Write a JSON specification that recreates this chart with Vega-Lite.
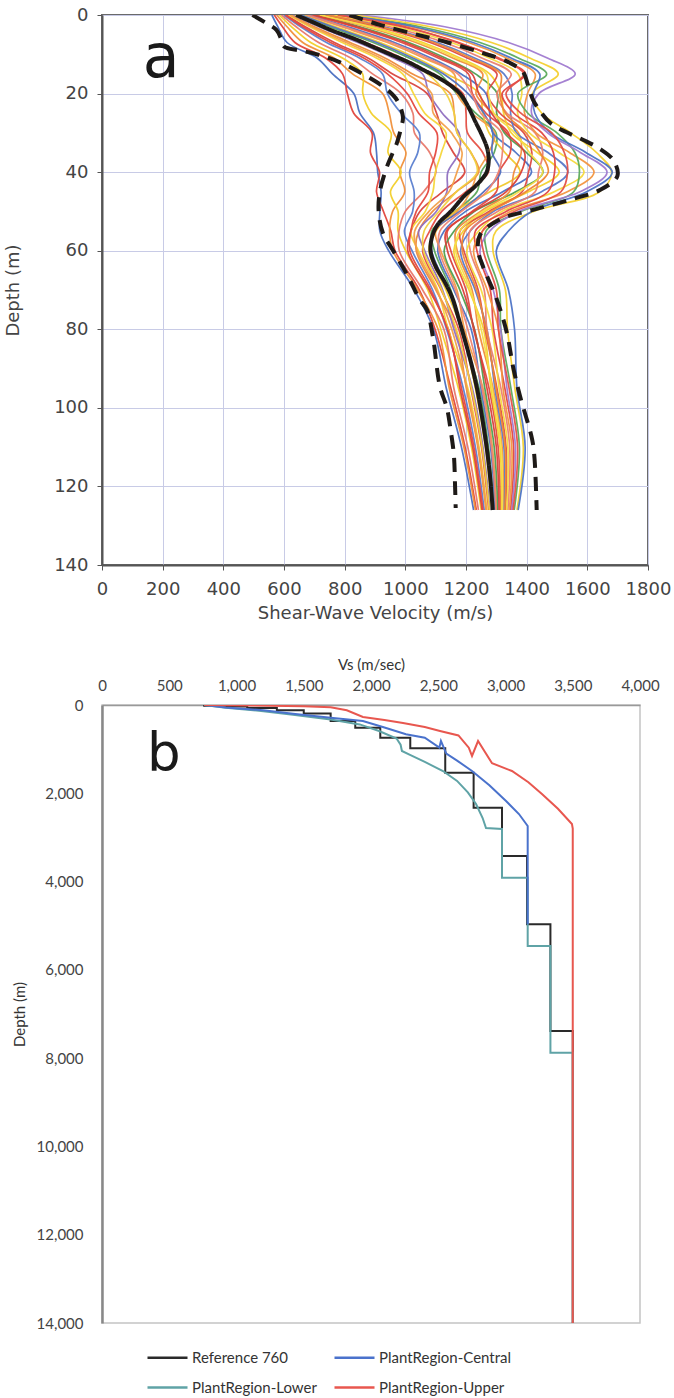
{
"$schema": "https://vega.github.io/schema/vega-lite/v6.json",
"background": "white",
"padding": {"left": 3, "top": 5, "right": 0, "bottom": 0},
"spacing": 140,
"bounds": "flush",
"config": {"font": "DejaVu Sans"},
"resolve": {"scale": {"color": "independent", "strokeDash": "independent"}, "legend": {"color": "independent", "strokeDash": "independent"}},
"datasets": {
"prof": [
{"s":"L01","d":0,"v":560},{"s":"L01","d":3,"v":580},{"s":"L01","d":7,"v":610},{"s":"L01","d":11,"v":710},{"s":"L01","d":15,"v":760},{"s":"L01","d":20,"v":830},{"s":"L01","d":25,"v":850},{"s":"L01","d":30,"v":895},{"s":"L01","d":35,"v":905},{"s":"L01","d":40,"v":909},{"s":"L01","d":45,"v":920},{"s":"L01","d":50,"v":916},{"s":"L01","d":55,"v":916},{"s":"L01","d":60,"v":945},{"s":"L01","d":70,"v":1030},{"s":"L01","d":80,"v":1093},{"s":"L01","d":95,"v":1135},{"s":"L01","d":110,"v":1185},{"s":"L01","d":126,"v":1225},
{"s":"L02","d":0,"v":568},{"s":"L02","d":3,"v":595},{"s":"L02","d":7,"v":636},{"s":"L02","d":11,"v":738},{"s":"L02","d":15,"v":793},{"s":"L02","d":20,"v":809},{"s":"L02","d":25,"v":830},{"s":"L02","d":30,"v":890},{"s":"L02","d":35,"v":885},{"s":"L02","d":40,"v":915},{"s":"L02","d":45,"v":905},{"s":"L02","d":50,"v":928},{"s":"L02","d":55,"v":952},{"s":"L02","d":60,"v":966},{"s":"L02","d":70,"v":1046},{"s":"L02","d":80,"v":1098},{"s":"L02","d":95,"v":1150},{"s":"L02","d":110,"v":1197},{"s":"L02","d":126,"v":1234},
{"s":"L03","d":0,"v":576},{"s":"L03","d":3,"v":610},{"s":"L03","d":7,"v":662},{"s":"L03","d":11,"v":766},{"s":"L03","d":15,"v":826},{"s":"L03","d":20,"v":925},{"s":"L03","d":25,"v":947},{"s":"L03","d":30,"v":962},{"s":"L03","d":35,"v":1002},{"s":"L03","d":40,"v":982},{"s":"L03","d":45,"v":998},{"s":"L03","d":50,"v":958},{"s":"L03","d":55,"v":948},{"s":"L03","d":60,"v":959},{"s":"L03","d":70,"v":1041},{"s":"L03","d":80,"v":1108},{"s":"L03","d":95,"v":1145},{"s":"L03","d":110,"v":1193},{"s":"L03","d":126,"v":1231},
{"s":"L04","d":0,"v":584},{"s":"L04","d":3,"v":625},{"s":"L04","d":7,"v":688},{"s":"L04","d":11,"v":794},{"s":"L04","d":15,"v":859},{"s":"L04","d":20,"v":860},{"s":"L04","d":25,"v":888},{"s":"L04","d":30,"v":953},{"s":"L04","d":35,"v":943},{"s":"L04","d":40,"v":986},{"s":"L04","d":45,"v":951},{"s":"L04","d":50,"v":976},{"s":"L04","d":55,"v":976},{"s":"L04","d":60,"v":1001},{"s":"L04","d":70,"v":1074},{"s":"L04","d":80,"v":1117},{"s":"L04","d":95,"v":1175},{"s":"L04","d":110,"v":1218},{"s":"L04","d":126,"v":1250},
{"s":"L05","d":0,"v":592},{"s":"L05","d":3,"v":640},{"s":"L05","d":7,"v":714},{"s":"L05","d":11,"v":822},{"s":"L05","d":15,"v":892},{"s":"L05","d":20,"v":986},{"s":"L05","d":25,"v":1025},{"s":"L05","d":30,"v":1030},{"s":"L05","d":35,"v":1080},{"s":"L05","d":40,"v":1101},{"s":"L05","d":45,"v":1060},{"s":"L05","d":50,"v":1000},{"s":"L05","d":55,"v":979},{"s":"L05","d":60,"v":980},{"s":"L05","d":70,"v":1057},{"s":"L05","d":80,"v":1127},{"s":"L05","d":95,"v":1160},{"s":"L05","d":110,"v":1206},{"s":"L05","d":126,"v":1241},
{"s":"L06","d":0,"v":600},{"s":"L06","d":3,"v":655},{"s":"L06","d":7,"v":740},{"s":"L06","d":11,"v":850},{"s":"L06","d":15,"v":925},{"s":"L06","d":20,"v":941},{"s":"L06","d":25,"v":986},{"s":"L06","d":30,"v":1046},{"s":"L06","d":35,"v":1041},{"s":"L06","d":40,"v":1014},{"s":"L06","d":45,"v":1029},{"s":"L06","d":50,"v":1024},{"s":"L06","d":55,"v":997},{"s":"L06","d":60,"v":1022},{"s":"L06","d":70,"v":1090},{"s":"L06","d":80,"v":1136},{"s":"L06","d":95,"v":1191},{"s":"L06","d":110,"v":1231},{"s":"L06","d":126,"v":1260},
{"s":"L07","d":0,"v":608},{"s":"L07","d":3,"v":670},{"s":"L07","d":7,"v":766},{"s":"L07","d":11,"v":878},{"s":"L07","d":15,"v":958},{"s":"L07","d":20,"v":1072},{"s":"L07","d":25,"v":1103},{"s":"L07","d":30,"v":1123},{"s":"L07","d":35,"v":1158},{"s":"L07","d":40,"v":1196},{"s":"L07","d":45,"v":1122},{"s":"L07","d":50,"v":1048},{"s":"L07","d":55,"v":1019},{"s":"L07","d":60,"v":1008},{"s":"L07","d":70,"v":1079},{"s":"L07","d":80,"v":1142},{"s":"L07","d":95,"v":1180},{"s":"L07","d":110,"v":1222},{"s":"L07","d":126,"v":1253},
{"s":"L08","d":0,"v":616},{"s":"L08","d":3,"v":685},{"s":"L08","d":7,"v":792},{"s":"L08","d":11,"v":906},{"s":"L08","d":15,"v":991},{"s":"L08","d":20,"v":1027},{"s":"L08","d":25,"v":1064},{"s":"L08","d":30,"v":1134},{"s":"L08","d":35,"v":1119},{"s":"L08","d":40,"v":1099},{"s":"L08","d":45,"v":1091},{"s":"L08","d":50,"v":1066},{"s":"L08","d":55,"v":1018},{"s":"L08","d":60,"v":1043},{"s":"L08","d":70,"v":1107},{"s":"L08","d":80,"v":1141},{"s":"L08","d":95,"v":1206},{"s":"L08","d":110,"v":1243},{"s":"L08","d":126,"v":1269},
{"s":"L09","d":0,"v":624},{"s":"L09","d":3,"v":700},{"s":"L09","d":7,"v":818},{"s":"L09","d":11,"v":934},{"s":"L09","d":15,"v":1024},{"s":"L09","d":20,"v":1148},{"s":"L09","d":25,"v":1161},{"s":"L09","d":30,"v":1171},{"s":"L09","d":35,"v":1216},{"s":"L09","d":40,"v":1242},{"s":"L09","d":45,"v":1168},{"s":"L09","d":50,"v":1090},{"s":"L09","d":55,"v":1044},{"s":"L09","d":60,"v":1036},{"s":"L09","d":70,"v":1101},{"s":"L09","d":80,"v":1166},{"s":"L09","d":95,"v":1201},{"s":"L09","d":110,"v":1239},{"s":"L09","d":126,"v":1266},
{"s":"L10","d":0,"v":632},{"s":"L10","d":3,"v":715},{"s":"L10","d":7,"v":844},{"s":"L10","d":11,"v":962},{"s":"L10","d":15,"v":1057},{"s":"L10","d":20,"v":1078},{"s":"L10","d":25,"v":1122},{"s":"L10","d":30,"v":1177},{"s":"L10","d":35,"v":1177},{"s":"L10","d":40,"v":1140},{"s":"L10","d":45,"v":1137},{"s":"L10","d":50,"v":1102},{"s":"L10","d":55,"v":1044},{"s":"L10","d":60,"v":1064},{"s":"L10","d":70,"v":1123},{"s":"L10","d":80,"v":1160},{"s":"L10","d":95,"v":1221},{"s":"L10","d":110,"v":1256},{"s":"L10","d":126,"v":1279},
{"s":"L11","d":0,"v":640},{"s":"L11","d":3,"v":730},{"s":"L11","d":7,"v":870},{"s":"L11","d":11,"v":990},{"s":"L11","d":15,"v":1090},{"s":"L11","d":20,"v":1190},{"s":"L11","d":25,"v":1200},{"s":"L11","d":30,"v":1205},{"s":"L11","d":35,"v":1255},{"s":"L11","d":40,"v":1274},{"s":"L11","d":45,"v":1199},{"s":"L11","d":50,"v":1120},{"s":"L11","d":55,"v":1080},{"s":"L11","d":60,"v":1057},{"s":"L11","d":70,"v":1118},{"s":"L11","d":80,"v":1176},{"s":"L11","d":95,"v":1216},{"s":"L11","d":110,"v":1251},{"s":"L11","d":126,"v":1275},
{"s":"L12","d":0,"v":650},{"s":"L12","d":3,"v":750},{"s":"L12","d":7,"v":894},{"s":"L12","d":11,"v":1014},{"s":"L12","d":15,"v":1114},{"s":"L12","d":20,"v":1169},{"s":"L12","d":25,"v":1232},{"s":"L12","d":30,"v":1299},{"s":"L12","d":35,"v":1293},{"s":"L12","d":40,"v":1250},{"s":"L12","d":45,"v":1236},{"s":"L12","d":50,"v":1164},{"s":"L12","d":55,"v":1087},{"s":"L12","d":60,"v":1096},{"s":"L12","d":70,"v":1150},{"s":"L12","d":80,"v":1183},{"s":"L12","d":95,"v":1243},{"s":"L12","d":110,"v":1274},{"s":"L12","d":126,"v":1292},
{"s":"L13","d":0,"v":661},{"s":"L13","d":3,"v":770},{"s":"L13","d":7,"v":917},{"s":"L13","d":11,"v":1038},{"s":"L13","d":15,"v":1137},{"s":"L13","d":20,"v":1244},{"s":"L13","d":25,"v":1255},{"s":"L13","d":30,"v":1276},{"s":"L13","d":35,"v":1328},{"s":"L13","d":40,"v":1378},{"s":"L13","d":45,"v":1279},{"s":"L13","d":50,"v":1164},{"s":"L13","d":55,"v":1101},{"s":"L13","d":60,"v":1078},{"s":"L13","d":70,"v":1134},{"s":"L13","d":80,"v":1185},{"s":"L13","d":95,"v":1231},{"s":"L13","d":110,"v":1264},{"s":"L13","d":126,"v":1285},
{"s":"L14","d":0,"v":672},{"s":"L14","d":3,"v":790},{"s":"L14","d":7,"v":941},{"s":"L14","d":11,"v":1062},{"s":"L14","d":15,"v":1161},{"s":"L14","d":20,"v":1170},{"s":"L14","d":25,"v":1220},{"s":"L14","d":30,"v":1295},{"s":"L14","d":35,"v":1275},{"s":"L14","d":40,"v":1238},{"s":"L14","d":45,"v":1215},{"s":"L14","d":50,"v":1171},{"s":"L14","d":55,"v":1100},{"s":"L14","d":60,"v":1117},{"s":"L14","d":70,"v":1170},{"s":"L14","d":80,"v":1195},{"s":"L14","d":95,"v":1256},{"s":"L14","d":110,"v":1287},{"s":"L14","d":126,"v":1301},
{"s":"L15","d":0,"v":682},{"s":"L15","d":3,"v":810},{"s":"L15","d":7,"v":964},{"s":"L15","d":11,"v":1086},{"s":"L15","d":15,"v":1184},{"s":"L15","d":20,"v":1266},{"s":"L15","d":25,"v":1278},{"s":"L15","d":30,"v":1289},{"s":"L15","d":35,"v":1364},{"s":"L15","d":40,"v":1416},{"s":"L15","d":45,"v":1321},{"s":"L15","d":50,"v":1199},{"s":"L15","d":55,"v":1128},{"s":"L15","d":60,"v":1107},{"s":"L15","d":70,"v":1160},{"s":"L15","d":80,"v":1217},{"s":"L15","d":95,"v":1249},{"s":"L15","d":110,"v":1281},{"s":"L15","d":126,"v":1296},
{"s":"L16","d":0,"v":693},{"s":"L16","d":3,"v":830},{"s":"L16","d":7,"v":988},{"s":"L16","d":11,"v":1110},{"s":"L16","d":15,"v":1208},{"s":"L16","d":20,"v":1221},{"s":"L16","d":25,"v":1266},{"s":"L16","d":30,"v":1340},{"s":"L16","d":35,"v":1346},{"s":"L16","d":40,"v":1309},{"s":"L16","d":45,"v":1300},{"s":"L16","d":50,"v":1220},{"s":"L16","d":55,"v":1139},{"s":"L16","d":60,"v":1150},{"s":"L16","d":70,"v":1200},{"s":"L16","d":80,"v":1225},{"s":"L16","d":95,"v":1276},{"s":"L16","d":110,"v":1306},{"s":"L16","d":126,"v":1313},
{"s":"L17","d":0,"v":703},{"s":"L17","d":3,"v":850},{"s":"L17","d":7,"v":1011},{"s":"L17","d":11,"v":1134},{"s":"L17","d":15,"v":1231},{"s":"L17","d":20,"v":1303},{"s":"L17","d":25,"v":1301},{"s":"L17","d":30,"v":1326},{"s":"L17","d":35,"v":1399},{"s":"L17","d":40,"v":1454},{"s":"L17","d":45,"v":1364},{"s":"L17","d":50,"v":1227},{"s":"L17","d":55,"v":1161},{"s":"L17","d":60,"v":1128},{"s":"L17","d":70,"v":1180},{"s":"L17","d":80,"v":1228},{"s":"L17","d":95,"v":1262},{"s":"L17","d":110,"v":1293},{"s":"L17","d":126,"v":1305},
{"s":"L18","d":0,"v":714},{"s":"L18","d":3,"v":870},{"s":"L18","d":7,"v":1035},{"s":"L18","d":11,"v":1158},{"s":"L18","d":15,"v":1255},{"s":"L18","d":20,"v":1233},{"s":"L18","d":25,"v":1289},{"s":"L18","d":30,"v":1373},{"s":"L18","d":35,"v":1382},{"s":"L18","d":40,"v":1358},{"s":"L18","d":45,"v":1343},{"s":"L18","d":50,"v":1248},{"s":"L18","d":55,"v":1167},{"s":"L18","d":60,"v":1171},{"s":"L18","d":70,"v":1220},{"s":"L18","d":80,"v":1241},{"s":"L18","d":95,"v":1289},{"s":"L18","d":110,"v":1319},{"s":"L18","d":126,"v":1322},
{"s":"L19","d":0,"v":724},{"s":"L19","d":3,"v":890},{"s":"L19","d":7,"v":1058},{"s":"L19","d":11,"v":1182},{"s":"L19","d":15,"v":1278},{"s":"L19","d":20,"v":1315},{"s":"L19","d":25,"v":1324},{"s":"L19","d":30,"v":1349},{"s":"L19","d":35,"v":1435},{"s":"L19","d":40,"v":1507},{"s":"L19","d":45,"v":1406},{"s":"L19","d":50,"v":1262},{"s":"L19","d":55,"v":1191},{"s":"L19","d":60,"v":1160},{"s":"L19","d":70,"v":1210},{"s":"L19","d":80,"v":1258},{"s":"L19","d":95,"v":1282},{"s":"L19","d":110,"v":1312},{"s":"L19","d":126,"v":1317},
{"s":"L20","d":0,"v":735},{"s":"L20","d":3,"v":910},{"s":"L20","d":7,"v":1082},{"s":"L20","d":11,"v":1206},{"s":"L20","d":15,"v":1302},{"s":"L20","d":20,"v":1270},{"s":"L20","d":25,"v":1312},{"s":"L20","d":30,"v":1390},{"s":"L20","d":35,"v":1417},{"s":"L20","d":40,"v":1406},{"s":"L20","d":45,"v":1385},{"s":"L20","d":50,"v":1276},{"s":"L20","d":55,"v":1180},{"s":"L20","d":60,"v":1193},{"s":"L20","d":70,"v":1240},{"s":"L20","d":80,"v":1263},{"s":"L20","d":95,"v":1302},{"s":"L20","d":110,"v":1332},{"s":"L20","d":126,"v":1330},
{"s":"L21","d":0,"v":745},{"s":"L21","d":3,"v":930},{"s":"L21","d":7,"v":1105},{"s":"L21","d":11,"v":1230},{"s":"L21","d":15,"v":1325},{"s":"L21","d":20,"v":1352},{"s":"L21","d":25,"v":1347},{"s":"L21","d":30,"v":1366},{"s":"L21","d":35,"v":1470},{"s":"L21","d":40,"v":1536},{"s":"L21","d":45,"v":1449},{"s":"L21","d":50,"v":1290},{"s":"L21","d":55,"v":1214},{"s":"L21","d":60,"v":1182},{"s":"L21","d":70,"v":1230},{"s":"L21","d":80,"v":1269},{"s":"L21","d":95,"v":1295},{"s":"L21","d":110,"v":1325},{"s":"L21","d":126,"v":1326},
{"s":"L22","d":0,"v":756},{"s":"L22","d":3,"v":950},{"s":"L22","d":7,"v":1129},{"s":"L22","d":11,"v":1254},{"s":"L22","d":15,"v":1349},{"s":"L22","d":20,"v":1302},{"s":"L22","d":25,"v":1335},{"s":"L22","d":30,"v":1428},{"s":"L22","d":35,"v":1453},{"s":"L22","d":40,"v":1439},{"s":"L22","d":45,"v":1428},{"s":"L22","d":50,"v":1304},{"s":"L22","d":55,"v":1213},{"s":"L22","d":60,"v":1214},{"s":"L22","d":70,"v":1260},{"s":"L22","d":80,"v":1269},{"s":"L22","d":95,"v":1315},{"s":"L22","d":110,"v":1344},{"s":"L22","d":126,"v":1338},
{"s":"L23","d":0,"v":766},{"s":"L23","d":3,"v":970},{"s":"L23","d":7,"v":1152},{"s":"L23","d":11,"v":1278},{"s":"L23","d":15,"v":1372},{"s":"L23","d":20,"v":1384},{"s":"L23","d":25,"v":1370},{"s":"L23","d":30,"v":1409},{"s":"L23","d":35,"v":1506},{"s":"L23","d":40,"v":1589},{"s":"L23","d":45,"v":1491},{"s":"L23","d":50,"v":1318},{"s":"L23","d":55,"v":1242},{"s":"L23","d":60,"v":1203},{"s":"L23","d":70,"v":1250},{"s":"L23","d":80,"v":1286},{"s":"L23","d":95,"v":1309},{"s":"L23","d":110,"v":1338},{"s":"L23","d":126,"v":1334},
{"s":"L24","d":0,"v":777},{"s":"L24","d":3,"v":990},{"s":"L24","d":7,"v":1176},{"s":"L24","d":11,"v":1302},{"s":"L24","d":15,"v":1396},{"s":"L24","d":20,"v":1319},{"s":"L24","d":25,"v":1358},{"s":"L24","d":30,"v":1450},{"s":"L24","d":35,"v":1488},{"s":"L24","d":40,"v":1492},{"s":"L24","d":45,"v":1470},{"s":"L24","d":50,"v":1332},{"s":"L24","d":55,"v":1231},{"s":"L24","d":60,"v":1236},{"s":"L24","d":70,"v":1280},{"s":"L24","d":80,"v":1291},{"s":"L24","d":95,"v":1328},{"s":"L24","d":110,"v":1357},{"s":"L24","d":126,"v":1347},
{"s":"L25","d":0,"v":791},{"s":"L25","d":3,"v":1018},{"s":"L25","d":7,"v":1208},{"s":"L25","d":11,"v":1336},{"s":"L25","d":15,"v":1428},{"s":"L25","d":20,"v":1403},{"s":"L25","d":25,"v":1393},{"s":"L25","d":30,"v":1431},{"s":"L25","d":35,"v":1541},{"s":"L25","d":40,"v":1622},{"s":"L25","d":45,"v":1534},{"s":"L25","d":50,"v":1346},{"s":"L25","d":55,"v":1255},{"s":"L25","d":60,"v":1225},{"s":"L25","d":70,"v":1270},{"s":"L25","d":80,"v":1307},{"s":"L25","d":95,"v":1322},{"s":"L25","d":110,"v":1351},{"s":"L25","d":126,"v":1343},
{"s":"L26","d":0,"v":808},{"s":"L26","d":3,"v":1050},{"s":"L26","d":7,"v":1246},{"s":"L26","d":11,"v":1374},{"s":"L26","d":15,"v":1466},{"s":"L26","d":20,"v":1371},{"s":"L26","d":25,"v":1404},{"s":"L26","d":30,"v":1500},{"s":"L26","d":35,"v":1559},{"s":"L26","d":40,"v":1574},{"s":"L26","d":45,"v":1555},{"s":"L26","d":50,"v":1381},{"s":"L26","d":55,"v":1266},{"s":"L26","d":60,"v":1268},{"s":"L26","d":70,"v":1310},{"s":"L26","d":80,"v":1315},{"s":"L26","d":95,"v":1348},{"s":"L26","d":110,"v":1376},{"s":"L26","d":126,"v":1359},
{"s":"L27","d":0,"v":850},{"s":"L27","d":3,"v":1130},{"s":"L27","d":7,"v":1340},{"s":"L27","d":11,"v":1470},{"s":"L27","d":15,"v":1560},{"s":"L27","d":20,"v":1440},{"s":"L27","d":25,"v":1416},{"s":"L27","d":30,"v":1469},{"s":"L27","d":35,"v":1577},{"s":"L27","d":40,"v":1665},{"s":"L27","d":45,"v":1576},{"s":"L27","d":50,"v":1374},{"s":"L27","d":55,"v":1278},{"s":"L27","d":60,"v":1246},{"s":"L27","d":70,"v":1290},{"s":"L27","d":80,"v":1314},{"s":"L27","d":95,"v":1335},{"s":"L27","d":110,"v":1363},{"s":"L27","d":126,"v":1351},
{"s":"L28","d":0,"v":825},{"s":"L28","d":3,"v":1082},{"s":"L28","d":7,"v":1284},{"s":"L28","d":11,"v":1412},{"s":"L28","d":15,"v":1504},{"s":"L28","d":20,"v":1419},{"s":"L28","d":25,"v":1450},{"s":"L28","d":30,"v":1545},{"s":"L28","d":35,"v":1630},{"s":"L28","d":40,"v":1680},{"s":"L28","d":45,"v":1640},{"s":"L28","d":50,"v":1423},{"s":"L28","d":55,"v":1299},{"s":"L28","d":60,"v":1289},{"s":"L28","d":70,"v":1330},{"s":"L28","d":80,"v":1337},{"s":"L28","d":95,"v":1361},{"s":"L28","d":110,"v":1389},{"s":"L28","d":126,"v":1368},
{"s":"L29","d":0,"v":798},{"s":"L29","d":3,"v":1030},{"s":"L29","d":7,"v":1223},{"s":"L29","d":11,"v":1350},{"s":"L29","d":15,"v":1443},{"s":"L29","d":20,"v":1423},{"s":"L29","d":25,"v":1427},{"s":"L29","d":30,"v":1478},{"s":"L29","d":35,"v":1595},{"s":"L29","d":40,"v":1682},{"s":"L29","d":45,"v":1598},{"s":"L29","d":50,"v":1416},{"s":"L29","d":55,"v":1340},{"s":"L29","d":60,"v":1300},{"s":"L29","d":70,"v":1340},{"s":"L29","d":80,"v":1360},{"s":"L29","d":95,"v":1368},{"s":"L29","d":110,"v":1395},{"s":"L29","d":126,"v":1372},
{"s":"L30","d":0,"v":780},{"s":"L30","d":3,"v":1000},{"s":"L30","d":7,"v":1170},{"s":"L30","d":11,"v":1310},{"s":"L30","d":15,"v":1390},{"s":"L30","d":20,"v":1332},{"s":"L30","d":25,"v":1381},{"s":"L30","d":30,"v":1483},{"s":"L30","d":35,"v":1524},{"s":"L30","d":40,"v":1535},{"s":"L30","d":45,"v":1513},{"s":"L30","d":50,"v":1360},{"s":"L30","d":55,"v":1254},{"s":"L30","d":60,"v":1257},{"s":"L30","d":70,"v":1300},{"s":"L30","d":80,"v":1307},{"s":"L30","d":95,"v":1342},{"s":"L30","d":110,"v":1370},{"s":"L30","d":126,"v":1355},
{"s":"M01","d":0,"v":604},{"s":"M01","d":3,"v":662},{"s":"M01","d":7,"v":753},{"s":"M01","d":11,"v":864},{"s":"M01","d":15,"v":941},{"s":"M01","d":20,"v":1006},{"s":"M01","d":25,"v":1044},{"s":"M01","d":30,"v":1104},{"s":"M01","d":35,"v":1100},{"s":"M01","d":40,"v":1080},{"s":"M01","d":45,"v":1075},{"s":"M01","d":50,"v":1036},{"s":"M01","d":55,"v":1018},{"s":"M01","d":60,"v":1015},{"s":"M01","d":70,"v":1084},{"s":"M01","d":80,"v":1139},{"s":"M01","d":95,"v":1185},{"s":"M01","d":110,"v":1226},{"s":"M01","d":126,"v":1256},
{"s":"M02","d":0,"v":620},{"s":"M02","d":3,"v":692},{"s":"M02","d":7,"v":805},{"s":"M02","d":11,"v":920},{"s":"M02","d":15,"v":1007},{"s":"M02","d":20,"v":1087},{"s":"M02","d":25,"v":1092},{"s":"M02","d":30,"v":1152},{"s":"M02","d":35,"v":1187},{"s":"M02","d":40,"v":1170},{"s":"M02","d":45,"v":1144},{"s":"M02","d":50,"v":1078},{"s":"M02","d":55,"v":1031},{"s":"M02","d":60,"v":1039},{"s":"M02","d":70,"v":1104},{"s":"M02","d":80,"v":1153},{"s":"M02","d":95,"v":1203},{"s":"M02","d":110,"v":1241},{"s":"M02","d":126,"v":1267},
{"s":"M03","d":0,"v":636},{"s":"M03","d":3,"v":722},{"s":"M03","d":7,"v":857},{"s":"M03","d":11,"v":976},{"s":"M03","d":15,"v":1073},{"s":"M03","d":20,"v":1134},{"s":"M03","d":25,"v":1161},{"s":"M03","d":30,"v":1171},{"s":"M03","d":35,"v":1216},{"s":"M03","d":40,"v":1237},{"s":"M03","d":45,"v":1168},{"s":"M03","d":50,"v":1111},{"s":"M03","d":55,"v":1062},{"s":"M03","d":60,"v":1060},{"s":"M03","d":70,"v":1120},{"s":"M03","d":80,"v":1168},{"s":"M03","d":95,"v":1218},{"s":"M03","d":110,"v":1253},{"s":"M03","d":126,"v":1277},
{"s":"M04","d":0,"v":656},{"s":"M04","d":3,"v":760},{"s":"M04","d":7,"v":906},{"s":"M04","d":11,"v":1026},{"s":"M04","d":15,"v":1126},{"s":"M04","d":20,"v":1207},{"s":"M04","d":25,"v":1259},{"s":"M04","d":30,"v":1288},{"s":"M04","d":35,"v":1286},{"s":"M04","d":40,"v":1314},{"s":"M04","d":45,"v":1258},{"s":"M04","d":50,"v":1179},{"s":"M04","d":55,"v":1094},{"s":"M04","d":60,"v":1087},{"s":"M04","d":70,"v":1142},{"s":"M04","d":80,"v":1184},{"s":"M04","d":95,"v":1237},{"s":"M04","d":110,"v":1269},{"s":"M04","d":126,"v":1289},
{"s":"M05","d":0,"v":677},{"s":"M05","d":3,"v":800},{"s":"M05","d":7,"v":953},{"s":"M05","d":11,"v":1074},{"s":"M05","d":15,"v":1173},{"s":"M05","d":20,"v":1218},{"s":"M05","d":25,"v":1249},{"s":"M05","d":30,"v":1317},{"s":"M05","d":35,"v":1320},{"s":"M05","d":40,"v":1307},{"s":"M05","d":45,"v":1268},{"s":"M05","d":50,"v":1185},{"s":"M05","d":55,"v":1114},{"s":"M05","d":60,"v":1112},{"s":"M05","d":70,"v":1165},{"s":"M05","d":80,"v":1206},{"s":"M05","d":95,"v":1253},{"s":"M05","d":110,"v":1284},{"s":"M05","d":126,"v":1299},
{"s":"M06","d":0,"v":698},{"s":"M06","d":3,"v":840},{"s":"M06","d":7,"v":1000},{"s":"M06","d":11,"v":1122},{"s":"M06","d":15,"v":1220},{"s":"M06","d":20,"v":1242},{"s":"M06","d":25,"v":1284},{"s":"M06","d":30,"v":1333},{"s":"M06","d":35,"v":1393},{"s":"M06","d":40,"v":1382},{"s":"M06","d":45,"v":1332},{"s":"M06","d":50,"v":1224},{"s":"M06","d":55,"v":1135},{"s":"M06","d":60,"v":1139},{"s":"M06","d":70,"v":1190},{"s":"M06","d":80,"v":1227},{"s":"M06","d":95,"v":1269},{"s":"M06","d":110,"v":1300},{"s":"M06","d":126,"v":1309},
{"s":"M07","d":0,"v":719},{"s":"M07","d":3,"v":880},{"s":"M07","d":7,"v":1047},{"s":"M07","d":11,"v":1170},{"s":"M07","d":15,"v":1267},{"s":"M07","d":20,"v":1274},{"s":"M07","d":25,"v":1292},{"s":"M07","d":30,"v":1361},{"s":"M07","d":35,"v":1409},{"s":"M07","d":40,"v":1453},{"s":"M07","d":45,"v":1375},{"s":"M07","d":50,"v":1255},{"s":"M07","d":55,"v":1179},{"s":"M07","d":60,"v":1166},{"s":"M07","d":70,"v":1215},{"s":"M07","d":80,"v":1250},{"s":"M07","d":95,"v":1286},{"s":"M07","d":110,"v":1316},{"s":"M07","d":126,"v":1320},
{"s":"M08","d":0,"v":740},{"s":"M08","d":3,"v":920},{"s":"M08","d":7,"v":1094},{"s":"M08","d":11,"v":1218},{"s":"M08","d":15,"v":1314},{"s":"M08","d":20,"v":1311},{"s":"M08","d":25,"v":1330},{"s":"M08","d":30,"v":1398},{"s":"M08","d":35,"v":1444},{"s":"M08","d":40,"v":1471},{"s":"M08","d":45,"v":1397},{"s":"M08","d":50,"v":1283},{"s":"M08","d":55,"v":1197},{"s":"M08","d":60,"v":1188},{"s":"M08","d":70,"v":1235},{"s":"M08","d":80,"v":1266},{"s":"M08","d":95,"v":1299},{"s":"M08","d":110,"v":1329},{"s":"M08","d":126,"v":1328}
],
"stat": [
{"s":"median","d":0,"v":640},{"s":"median","d":2,"v":700},{"s":"median","d":4,"v":760},{"s":"median","d":6,"v":830},{"s":"median","d":8,"v":890},{"s":"median","d":10,"v":950},{"s":"median","d":12,"v":1010},{"s":"median","d":14,"v":1060},{"s":"median","d":16,"v":1110},{"s":"median","d":18,"v":1150},{"s":"median","d":20,"v":1180},{"s":"median","d":23,"v":1205},{"s":"median","d":27,"v":1230},{"s":"median","d":31,"v":1255},{"s":"median","d":34,"v":1270},{"s":"median","d":37,"v":1275},{"s":"median","d":40,"v":1268},{"s":"median","d":42,"v":1250},{"s":"median","d":44,"v":1225},{"s":"median","d":46,"v":1195},{"s":"median","d":50,"v":1150},{"s":"median","d":53,"v":1110},{"s":"median","d":56,"v":1090},{"s":"median","d":60,"v":1083},{"s":"median","d":64,"v":1100},{"s":"median","d":68,"v":1130},{"s":"median","d":72,"v":1155},{"s":"median","d":77,"v":1175},{"s":"median","d":81,"v":1190},{"s":"median","d":88,"v":1215},{"s":"median","d":95,"v":1236},{"s":"median","d":101,"v":1250},{"s":"median","d":110,"v":1268},{"s":"median","d":118,"v":1280},{"s":"median","d":126,"v":1288},
{"s":"upper","d":0,"v":816},{"s":"upper","d":2.5,"v":916},{"s":"upper","d":5,"v":1038},{"s":"upper","d":7,"v":1140},{"s":"upper","d":9.7,"v":1256},{"s":"upper","d":12,"v":1340},{"s":"upper","d":14.5,"v":1388},{"s":"upper","d":18,"v":1405},{"s":"upper","d":21.6,"v":1421},{"s":"upper","d":24,"v":1440},{"s":"upper","d":27.5,"v":1478},{"s":"upper","d":29.8,"v":1530},{"s":"upper","d":31.8,"v":1587},{"s":"upper","d":34,"v":1640},{"s":"upper","d":37,"v":1686},{"s":"upper","d":41,"v":1699},{"s":"upper","d":44.5,"v":1643},{"s":"upper","d":47,"v":1544},{"s":"upper","d":49.6,"v":1421},{"s":"upper","d":52,"v":1312},{"s":"upper","d":56,"v":1246},{"s":"upper","d":60,"v":1240},{"s":"upper","d":64,"v":1256},{"s":"upper","d":72.5,"v":1302},{"s":"upper","d":81,"v":1335},{"s":"upper","d":89.5,"v":1355},{"s":"upper","d":97,"v":1378},{"s":"upper","d":108,"v":1418},{"s":"upper","d":113,"v":1426},{"s":"upper","d":126,"v":1433},
{"s":"lower","d":0,"v":496},{"s":"lower","d":2,"v":540},{"s":"lower","d":3.8,"v":575},{"s":"lower","d":6,"v":590},{"s":"lower","d":8,"v":600},{"s":"lower","d":9,"v":650},{"s":"lower","d":9.7,"v":694},{"s":"lower","d":12,"v":783},{"s":"lower","d":16.5,"v":893},{"s":"lower","d":19,"v":940},{"s":"lower","d":21.6,"v":972},{"s":"lower","d":25.9,"v":992},{"s":"lower","d":29,"v":985},{"s":"lower","d":32.6,"v":972},{"s":"lower","d":38.7,"v":939},{"s":"lower","d":45,"v":916},{"s":"lower","d":50,"v":912},{"s":"lower","d":55.5,"v":926},{"s":"lower","d":60,"v":960},{"s":"lower","d":66,"v":1005},{"s":"lower","d":72.5,"v":1048},{"s":"lower","d":75,"v":1071},{"s":"lower","d":82,"v":1091},{"s":"lower","d":94.6,"v":1114},{"s":"lower","d":100,"v":1137},{"s":"lower","d":106,"v":1150},{"s":"lower","d":112,"v":1160},{"s":"lower","d":120,"v":1164},{"s":"lower","d":125.5,"v":1166}
],
"vsb": [
{"s":"Reference 760","d":0,"v":760},{"s":"Reference 760","d":15,"v":760},{"s":"Reference 760","d":15,"v":900},{"s":"Reference 760","d":35,"v":900},{"s":"Reference 760","d":35,"v":1080},{"s":"Reference 760","d":70,"v":1080},{"s":"Reference 760","d":70,"v":1300},{"s":"Reference 760","d":120,"v":1300},{"s":"Reference 760","d":120,"v":1500},{"s":"Reference 760","d":190,"v":1500},{"s":"Reference 760","d":190,"v":1700},{"s":"Reference 760","d":362,"v":1700},{"s":"Reference 760","d":362,"v":1883},{"s":"Reference 760","d":513,"v":1883},{"s":"Reference 760","d":513,"v":2069},{"s":"Reference 760","d":740,"v":2069},{"s":"Reference 760","d":740,"v":2292},{"s":"Reference 760","d":982,"v":2292},{"s":"Reference 760","d":982,"v":2552},{"s":"Reference 760","d":1533,"v":2552},{"s":"Reference 760","d":1533,"v":2763},{"s":"Reference 760","d":2326,"v":2763},{"s":"Reference 760","d":2326,"v":2974},{"s":"Reference 760","d":3421,"v":2974},{"s":"Reference 760","d":3421,"v":3160},{"s":"Reference 760","d":4969,"v":3160},{"s":"Reference 760","d":4969,"v":3334},{"s":"Reference 760","d":7386,"v":3334},{"s":"Reference 760","d":7386,"v":3500},{"s":"Reference 760","d":14000,"v":3500},
{"s":"PlantRegion-Lower","d":0,"v":760},{"s":"PlantRegion-Lower","d":60,"v":920},{"s":"PlantRegion-Lower","d":140,"v":1200},{"s":"PlantRegion-Lower","d":220,"v":1420},{"s":"PlantRegion-Lower","d":330,"v":1700},{"s":"PlantRegion-Lower","d":440,"v":1916},{"s":"PlantRegion-Lower","d":590,"v":2060},{"s":"PlantRegion-Lower","d":760,"v":2190},{"s":"PlantRegion-Lower","d":900,"v":2220},{"s":"PlantRegion-Lower","d":1042,"v":2230},{"s":"PlantRegion-Lower","d":1130,"v":2290},{"s":"PlantRegion-Lower","d":1290,"v":2400},{"s":"PlantRegion-Lower","d":1495,"v":2535},{"s":"PlantRegion-Lower","d":1720,"v":2640},{"s":"PlantRegion-Lower","d":1980,"v":2720},{"s":"PlantRegion-Lower","d":2243,"v":2781},{"s":"PlantRegion-Lower","d":2560,"v":2830},{"s":"PlantRegion-Lower","d":2787,"v":2855},{"s":"PlantRegion-Lower","d":2809,"v":2974},{"s":"PlantRegion-Lower","d":3912,"v":2974},{"s":"PlantRegion-Lower","d":3912,"v":3165},{"s":"PlantRegion-Lower","d":5460,"v":3165},{"s":"PlantRegion-Lower","d":5460,"v":3334},{"s":"PlantRegion-Lower","d":7877,"v":3334},{"s":"PlantRegion-Lower","d":7877,"v":3500},{"s":"PlantRegion-Lower","d":14000,"v":3500},
{"s":"PlantRegion-Central","d":0,"v":760},{"s":"PlantRegion-Central","d":55,"v":920},{"s":"PlantRegion-Central","d":120,"v":1200},{"s":"PlantRegion-Central","d":200,"v":1420},{"s":"PlantRegion-Central","d":290,"v":1700},{"s":"PlantRegion-Central","d":362,"v":1940},{"s":"PlantRegion-Central","d":510,"v":2100},{"s":"PlantRegion-Central","d":664,"v":2260},{"s":"PlantRegion-Central","d":740,"v":2400},{"s":"PlantRegion-Central","d":816,"v":2520},{"s":"PlantRegion-Central","d":967,"v":2508},{"s":"PlantRegion-Central","d":1100,"v":2560},{"s":"PlantRegion-Central","d":1260,"v":2640},{"s":"PlantRegion-Central","d":1495,"v":2751},{"s":"PlantRegion-Central","d":1820,"v":2880},{"s":"PlantRegion-Central","d":2175,"v":3004},{"s":"PlantRegion-Central","d":2470,"v":3100},{"s":"PlantRegion-Central","d":2741,"v":3165},{"s":"PlantRegion-Central","d":4969,"v":3165},
{"s":"PlantRegion-Upper","d":0,"v":760},{"s":"PlantRegion-Upper","d":12,"v":1100},{"s":"PlantRegion-Upper","d":28,"v":1500},{"s":"PlantRegion-Upper","d":50,"v":1700},{"s":"PlantRegion-Upper","d":120,"v":1820},{"s":"PlantRegion-Upper","d":272,"v":1940},{"s":"PlantRegion-Upper","d":340,"v":2100},{"s":"PlantRegion-Upper","d":408,"v":2238},{"s":"PlantRegion-Upper","d":500,"v":2400},{"s":"PlantRegion-Upper","d":589,"v":2513},{"s":"PlantRegion-Upper","d":690,"v":2650},{"s":"PlantRegion-Upper","d":816,"v":2796},{"s":"PlantRegion-Upper","d":967,"v":2727},{"s":"PlantRegion-Upper","d":1155,"v":2751},{"s":"PlantRegion-Upper","d":1320,"v":2900},{"s":"PlantRegion-Upper","d":1495,"v":3048},{"s":"PlantRegion-Upper","d":1750,"v":3170},{"s":"PlantRegion-Upper","d":2016,"v":3271},{"s":"PlantRegion-Upper","d":2350,"v":3390},{"s":"PlantRegion-Upper","d":2696,"v":3494},{"s":"PlantRegion-Upper","d":2800,"v":3500},{"s":"PlantRegion-Upper","d":14000,"v":3500}
]
},
"vconcat": [
{
"width": 546, "height": 550,
"view": {"stroke": "#6a6a6a", "strokeWidth": 2},
"encoding": {
 "x": {"field": "v", "type": "quantitative", "scale": {"domain": [0, 1800], "nice": false},
  "axis": {"title": "Shear-Wave Velocity (m/s)", "format": "d", "values": [0,200,400,600,800,1000,1200,1400,1600,1800], "grid": true, "gridColor": "#c8cbe6", "gridWidth": 1, "domainColor": "#555", "domainWidth": 2, "tickColor": "#555", "tickSize": 5, "labelFont": "DejaVu Sans", "labelFontSize": 18, "labelColor": "#444", "labelPadding": 10, "labelFlush": false, "labelOverlap": false, "titleFont": "DejaVu Sans", "titleFontSize": 18, "titleFontWeight": "normal", "titleColor": "#444", "titlePadding": 6}},
 "y": {"field": "d", "type": "quantitative", "scale": {"domain": [0, 140], "reverse": true, "nice": false},
  "axis": {"title": "Depth (m)", "format": "d", "values": [0,20,40,60,80,100,120,140], "grid": true, "gridColor": "#c8cbe6", "gridWidth": 1, "domainColor": "#555", "domainWidth": 2, "tickColor": "#555", "tickSize": 5, "labelFont": "DejaVu Sans", "labelFontSize": 18, "labelColor": "#444", "labelPadding": 9, "labelFlush": false, "labelOverlap": false, "titleFont": "DejaVu Sans", "titleFontSize": 18, "titleFontWeight": "normal", "titleColor": "#444", "titlePadding": 31}}
},
"layer": [
 {"data": {"name": "prof"},
  "mark": {"type": "line", "strokeWidth": 1.7, "interpolate": "catmull-rom", "opacity": 0.95, "clip": true},
  "encoding": {
   "order": {"field": "d", "type": "quantitative"},
   "color": {"field": "s", "type": "nominal", "legend": null,
    "scale": {"domain": ["L01","L02","L03","L04","L05","L06","L07","L08","L09","L10","L11","L12","L13","L14","L15","L16","L17","L18","L19","L20","L21","L22","L23","L24","L25","L26","L27","L28","L29","L30","M01","M02","M03","M04","M05","M06","M07","M08"],
     "range": ["#4a6fc1","#e0443c","#f0903a","#f2cf2a","#e8786a","#5b7fd0","#d9453d","#f5d63a","#ee8a3a","#8f6fc0","#e55045","#5aa55a","#f0c82c","#f39b45","#4b72c4","#e04a40","#4f9e4f","#f08c3c","#f3d12e","#dc4a42","#5878c8","#ea8070","#f6d93e","#e24640","#f29540","#5cab5c","#a07ad0","#f4d030","#4d74c6","#e35048","#e5483e","#f2a04a","#f0d040","#5070c0","#ec8474","#d84038","#f7dc48","#ef8534"]}}
  }},
 {"data": {"name": "stat"},
  "mark": {"type": "line", "strokeWidth": 4, "color": "#1e1a18", "interpolate": "catmull-rom", "clip": true},
  "encoding": {
   "order": {"field": "d", "type": "quantitative"},
   "detail": {"field": "s", "type": "nominal"},
   "strokeDash": {"field": "s", "type": "nominal", "legend": null, "scale": {"domain": ["median", "upper", "lower"], "range": [[1, 0], [14, 9], [14, 9]]}}
  }},
 {"data": {"values": [{"t": "a", "v": 195, "d": 15.8}]},
  "mark": {"type": "text", "font": "DejaVu Sans", "fontSize": 60, "fill": "#1a1a1a", "align": "center", "baseline": "alphabetic"},
  "encoding": {"text": {"field": "t", "type": "nominal"}}}
]
},
{
"width": 538, "height": 618,
"view": {"stroke": "#c4c4c4", "strokeWidth": 1.5},
"encoding": {
 "x": {"field": "v", "type": "quantitative", "scale": {"domain": [0, 4000], "nice": false},
  "axis": {"orient": "top", "title": "Vs (m/sec)", "values": [0,500,1000,1500,2000,2500,3000,3500,4000], "format": ",.0f", "grid": false, "ticks": false, "tickSize": 0, "domainColor": "#999", "domainWidth": 1.5, "labelFont": "Lato", "labelFontSize": 15, "labelColor": "#444", "labelPadding": 12, "labelFlush": false, "labelOverlap": false, "titleFont": "Lato", "titleFontSize": 15, "titleFontWeight": "normal", "titleColor": "#333", "titlePadding": 6}},
 "y": {"field": "d", "type": "quantitative", "scale": {"domain": [0, 14000], "reverse": true, "nice": false},
  "axis": {"title": "Depth (m)", "values": [0,2000,4000,6000,8000,10000,12000,14000], "format": ",.0f", "grid": false, "ticks": false, "tickSize": 0, "domainColor": "#888", "domainWidth": 2.5, "labelFont": "Lato", "labelFontSize": 15, "labelColor": "#444", "labelPadding": 19, "labelFlush": false, "labelOverlap": false, "titleFont": "Lato", "titleFontSize": 15, "titleFontWeight": "normal", "titleColor": "#333", "titlePadding": 9}}
},
"layer": [
 {"data": {"name": "vsb"},
  "mark": {"type": "line", "strokeWidth": 2, "clip": true},
  "encoding": {
   "order": [{"field": "d", "type": "quantitative"}, {"field": "v", "type": "quantitative"}],
   "color": {"field": "s", "type": "nominal",
    "scale": {"domain": ["Reference 760", "PlantRegion-Central", "PlantRegion-Lower", "PlantRegion-Upper"], "range": ["#2a2a2a", "#4a72cc", "#5fa3a6", "#e8574f"]},
    "legend": {"title": null, "orient": "none", "legendX": 44, "legendY": 631, "direction": "horizontal", "columns": 2, "symbolType": "stroke", "symbolSize": 1600, "symbolStrokeWidth": 2.5, "labelFont": "Lato", "labelFontSize": 15, "labelColor": "#333", "labelOffset": 3, "columnPadding": 12, "rowPadding": -10}}
  }},
 {"data": {"values": [{"t": "b", "v": 460, "d": 1495}]},
  "mark": {"type": "text", "font": "DejaVu Sans", "fontSize": 53, "fill": "#1a1a1a", "align": "center", "baseline": "alphabetic"},
  "encoding": {"text": {"field": "t", "type": "nominal"}}}
]
}
]
}
